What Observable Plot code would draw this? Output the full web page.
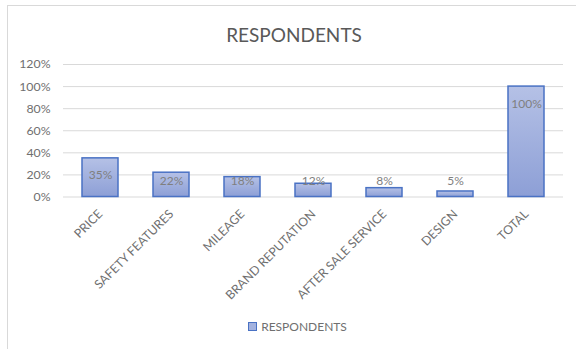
<!DOCTYPE html>
<html>
<head>
<meta charset="utf-8">
<script src="https://cdn.jsdelivr.net/npm/d3@7"></script>
<script src="https://cdn.jsdelivr.net/npm/@observablehq/plot@0.6"></script>
<style>
  html, body { margin: 0; padding: 0; background: #fff; }
  #wrap { position: relative; width: 576px; height: 349px; overflow: hidden; font-family: Lato, "Open Sans", sans-serif; }
  #frame { position: absolute; left: 7px; top: 5px; width: 600px; height: 400px; border: 1px solid #d9d9d9; box-sizing: border-box; }
  #title { position: absolute; left: 0; top: 23px; width: 588px; text-align: center; font-size: 19px; color: #595959; }
  #chart { position: absolute; left: 0; top: 0; }
  #legend { position: absolute; left: 0; top: 319px; width: 595px; text-align: center; font-size: 12px; color: #6f6f6f; white-space: nowrap; }
  #legend .sw { display: inline-block; width: 7px; height: 7px; background: #a3b2df; border: 1px solid #4a72c4; vertical-align: 0px; margin-right: 4px; }
</style>
</head>
<body>
<div id="wrap">
  <div id="frame"></div>
  <div id="chart"></div>
  <div id="title">RESPONDENTS</div>
  <div id="legend"><span class="sw"></span>RESPONDENTS</div>
</div>
<script>
const categories = ["PRICE", "SAFETY FEATURES", "MILEAGE", "BRAND REPUTATION", "AFTER SALE SERVICE", "DESIGN", "TOTAL"];
const respondents = [35, 22, 18, 12, 8, 5, 100];
const yTicks = [0, 20, 40, 60, 80, 100, 120];

const data = categories.map((c, i) => ({category: c, value: respondents[i]}));

const chart = Plot.plot({
  width: 576,
  height: 310,
  marginTop: 64,
  marginBottom: 113.5,
  marginLeft: 63,
  marginRight: 13,
  style: {fontFamily: "Lato, 'Open Sans', sans-serif", fontSize: "12.3px", color: "#595959", background: "transparent"},
  x: {domain: categories, paddingInner: 0.49, paddingOuter: 0.245, label: null, tickSize: 0, tickRotate: -45, tickPadding: 15},
  y: {domain: [0, 120], ticks: yTicks, tickFormat: d => d + "%", label: null, tickSize: 0, tickPadding: 13},
  marks: [
    Plot.gridY(yTicks, {stroke: "#d9d9d9", strokeOpacity: 1, strokeWidth: 1}),
    Plot.barY(data, {x: "category", y: "value", fill: "url(#barGrad)", stroke: "#4a72c4", strokeWidth: 1.5}),
    Plot.text(data, {x: "category", y: d => Math.max(d.value - 15.5, 14), text: d => d.value + "%", fill: "#7f7f7f", fontSize: 12})
  ]
});

const svg = d3.select(chart);
const defs = svg.insert("defs", ":first-child");
const g = defs.append("linearGradient").attr("id", "barGrad").attr("x1", 0).attr("y1", 0).attr("x2", 0).attr("y2", 1);
g.append("stop").attr("offset", "0%").attr("stop-color", "#b5c1e6");
g.append("stop").attr("offset", "100%").attr("stop-color", "#8d9fd6");
svg.selectAll("[aria-label='x-axis tick label'] text, [aria-label='y-axis tick label'] text").attr("fill", "#6f6f6f");

document.getElementById("chart").appendChild(chart);
</script>
</body>
</html>
